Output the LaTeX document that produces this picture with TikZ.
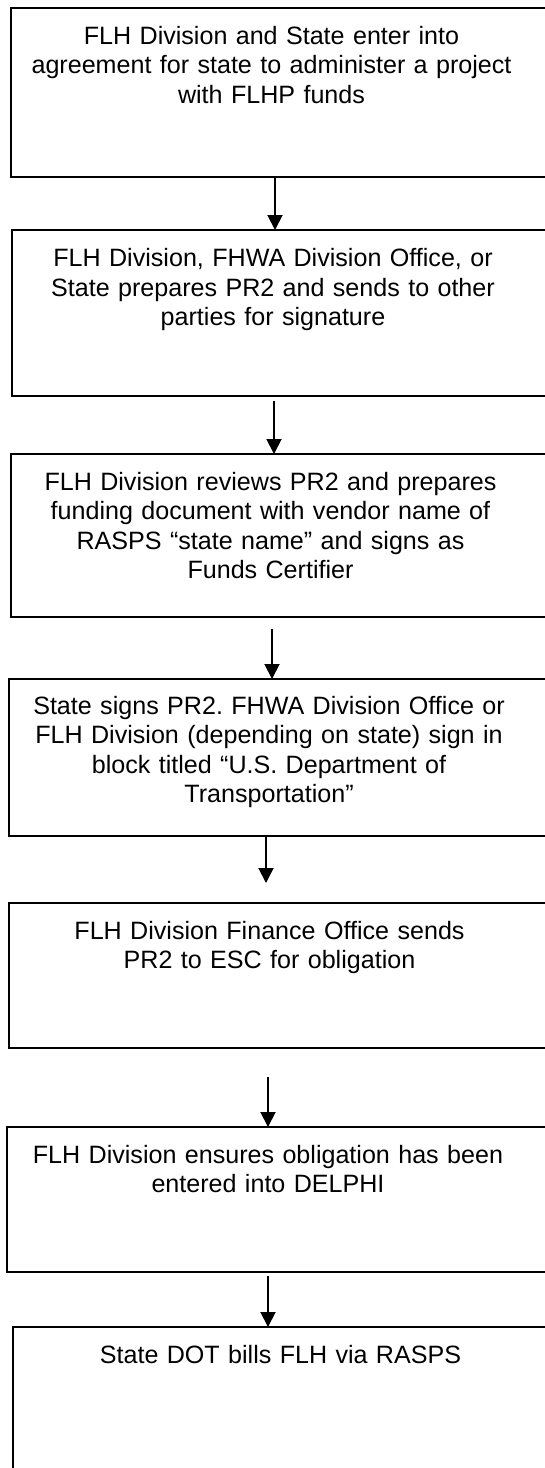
\documentclass[tikz,border=0pt]{standalone}
\usepackage{fontspec}
\setmainfont{Liberation Sans}
\usepackage{tikz}
\usetikzlibrary{arrows.meta}
\frenchspacing

\begin{document}
\begin{tikzpicture}[x=1pt, y=-1pt,
    stepbox/.style={rectangle, draw, line width=1.9pt, inner sep=0pt, outer sep=0pt},
    steptext/.style={anchor=base, inner sep=0pt, text width=530pt, align=center, font=\fontsize{25.1}{29.5}\selectfont},
    flow/.style={line width=1.9pt, -{Triangle[width=15pt, length=15pt]}}]
    \useasboundingbox (0,0) rectangle (545,1468);
    \clip (0,0) rectangle (545,1468);

    \node[stepbox, minimum width=539pt, minimum height=169pt] (s1) at (280.5, 92.5) {};
    \node[stepbox, minimum width=538pt, minimum height=166pt] (s2) at (281, 313) {};
    \node[stepbox, minimum width=539pt, minimum height=163pt] (s3) at (280.5, 535.5) {};
    \node[stepbox, minimum width=541pt, minimum height=157pt] (s4) at (279.5, 757.5) {};
    \node[stepbox, minimum width=541pt, minimum height=145pt] (s5) at (279.5, 975.5) {};
    \node[stepbox, minimum width=543pt, minimum height=145pt] (s6) at (278.5, 1199.5) {};
    \node[stepbox, minimum width=537pt, minimum height=173pt] (s7) at (281.5, 1413.5) {};

    \node[steptext] (t1) at (271.5, 44) {FLH Division and State enter into\\ agreement for state to administer a project\\ with FLHP funds};
    \node[steptext] (t2) at (273, 266.5) {FLH Division, FHWA Division Office, or\\ State prepares PR2 and sends to other\\ parties for signature};
    \node[steptext] (t3) at (270.5, 490) {FLH Division reviews PR2 and prepares\\ funding document with vendor name of\\ RASPS “state name” and signs as\\ Funds Certifier};
    \node[steptext] (t4) at (269, 714) {State signs PR2. FHWA Division Office or\\ FLH Division (depending on state) sign in\\ block titled “U.S. Department of\\ Transportation”};
    \node[steptext] (t5) at (269.5, 939) {FLH Division Finance Office sends\\ PR2 to ESC for obligation};
    \node[steptext] (t6) at (268, 1163) {FLH Division ensures obligation has been\\ entered into DELPHI};
    \node[steptext] (t7) at (280.5, 1363) {State DOT bills FLH via RASPS};

    \draw[flow] ([xshift=-5.5pt]s1.south) -- ([xshift=-6pt]s2.north);
    \draw[flow, shorten <=5pt] ([xshift=-7pt]s2.south) -- ([xshift=-6.5pt]s3.north);
    \draw[flow, shorten <=12pt] ([xshift=-8.5pt]s3.south) -- ([xshift=-7.5pt]s4.north);
    \draw[flow, shorten >=20pt] ([xshift=-13.5pt]s4.south) -- ([xshift=-13.5pt]s5.north);
    \draw[flow, shorten <=29pt] ([xshift=-11.5pt]s5.south) -- ([xshift=-10.5pt]s6.north);
    \draw[flow, shorten <=4pt] ([xshift=-10.5pt]s6.south) -- ([xshift=-13.5pt]s7.north);
\end{tikzpicture}
\end{document}
